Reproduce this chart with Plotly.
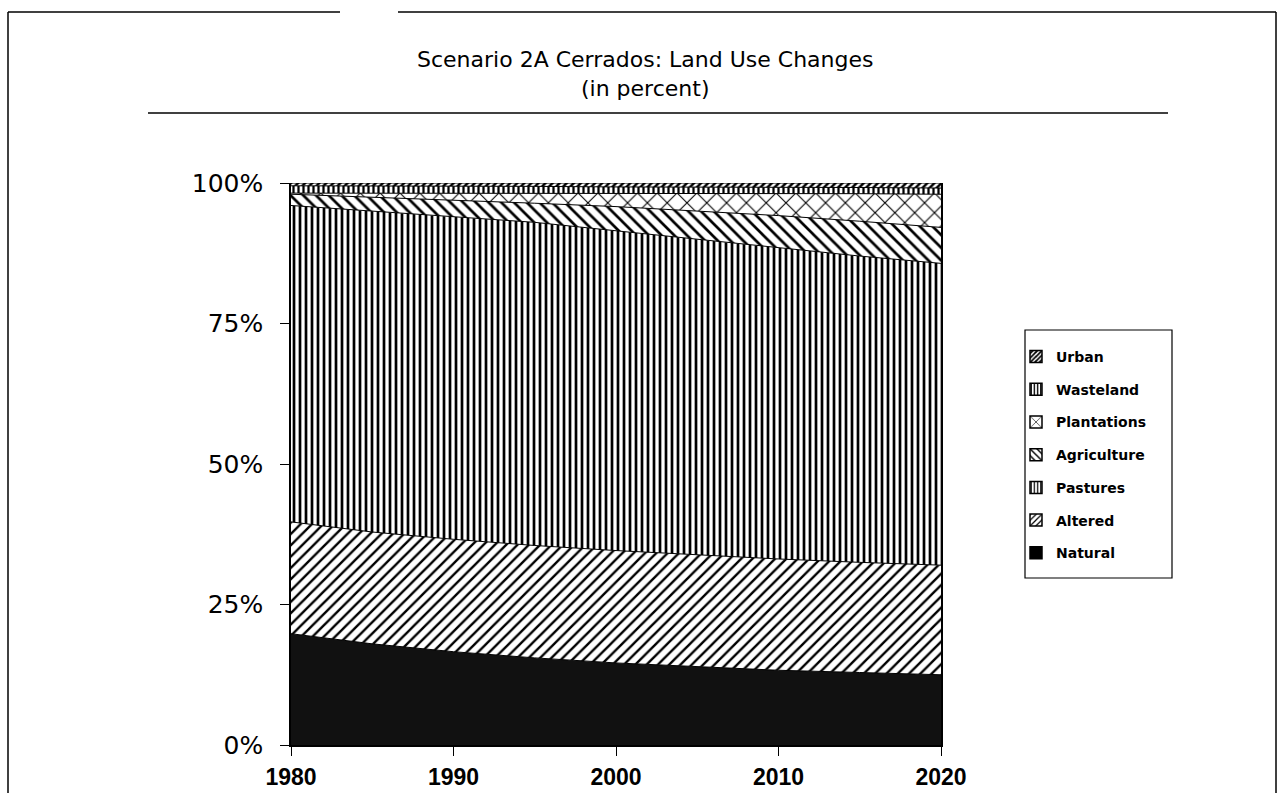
import plotly.graph_objects as go

# Scenario 2A Cerrados – land use shares (percent of total area)
years = [1980, 1985, 1990, 1995, 2000, 2005, 2010, 2015, 2020]
natural = [19.8, 18.0, 16.6, 15.5, 14.6, 13.9, 13.3, 12.9, 12.5]
altered = [19.9, 19.9, 20.0, 20.0, 20.0, 19.9, 19.8, 19.6, 19.5]
pastures = [56.3, 57.1, 57.4, 57.5, 56.9, 56.2, 55.4, 54.5, 53.7]
agriculture = [2.0, 2.5, 3.0, 3.4, 4.3, 5.0, 5.7, 6.2, 6.4]
plantations = [0.2, 0.7, 1.1, 1.7, 2.3, 3.1, 3.9, 4.9, 5.9]
wasteland = [1.3, 1.3, 1.3, 1.3, 1.2, 1.2, 1.1, 1.1, 1.1]
urban = [0.5, 0.5, 0.6, 0.6, 0.7, 0.7, 0.8, 0.8, 0.9]

year_ticks = [1980, 1990, 2000, 2010, 2020]
pct_ticks = [0, 25, 50, 75, 100]
pct_labels = ["0%", "25%", "50%", "75%", "100%"]

# plot area in pixels (1284 x 793 page)
W, H = 1284, 793
L, R, T, B = 291, 941, 183, 745


def px(x):
    return (x - L) / (R - L)


def py(y):
    return (B - y) / (B - T)


def pat(shape, size, solidity):
    return dict(shape=shape, size=size, solidity=solidity,
                fgcolor="black", bgcolor="white", fillmode="replace")


# (name, values, area style, legend-swatch pattern)
layers = [
    ("Natural", natural, dict(fillcolor="#111111"), None),
    ("Altered", altered, dict(fillpattern=pat("/", 8, 0.3)), pat("/", 5, 0.3)),
    ("Pastures", pastures, dict(fillpattern=pat("|", 6, 0.45)), pat("|", 4, 0.4)),
    ("Agriculture", agriculture, dict(fillpattern=pat("\\", 9, 0.3)), pat("\\", 6, 0.3)),
    ("Plantations", plantations, dict(fillpattern=pat("x", 14, 0.15)), pat("x", 12, 0.15)),
    ("Wasteland", wasteland, dict(fillpattern=pat("|", 5, 0.45)), pat("|", 4, 0.45)),
    ("Urban", urban, dict(fillpattern=pat("/", 5, 0.5)), pat("/", 4, 0.55)),
]

fig = go.Figure()
for name, vals, style, _ in layers:
    fig.add_trace(go.Scatter(
        x=years, y=vals, name=name, mode="lines", stackgroup="land",
        line=dict(color="black", width=1), showlegend=False,
        hoverinfo="x+y+name", **style,
    ))

# square legend swatches, listed top layer first
for rank, (name, _, _, swatch) in enumerate(reversed(layers)):
    marker = dict(color="black" if swatch is None else "white",
                  line=dict(color="black", width=1.5))
    if swatch is not None:
        marker["pattern"] = swatch
    fig.add_trace(go.Bar(
        x=[None], y=[None], name=name, marker=marker,
        legendgroup=name, legendrank=rank + 1, showlegend=True,
    ))

font = "Liberation Sans, Arial, sans-serif"
wide = "DejaVu Sans, Verdana, sans-serif"

fig.update_layout(
    width=W, height=H,
    margin=dict(l=L, r=W - R, t=T, b=H - B, autoexpand=False),
    paper_bgcolor="white", plot_bgcolor="white",
    font=dict(family=font, color="black"),
    showlegend=True,
    legend=dict(
        x=px(1016), y=py(341), xanchor="left", yanchor="top",
        traceorder="grouped", tracegroupgap=11.5, itemwidth=30,
        borderwidth=0, bgcolor="rgba(0,0,0,0)",
        font=dict(family=wide, size=14, weight="bold"),
    ),
    xaxis=dict(
        type="linear", range=[1980, 2020], tickvals=year_ticks,
        ticks="outside", ticklen=9, tickcolor="black", ticklabelstandoff=2,
        showline=True, linecolor="black", linewidth=1.5, automargin=False,
        showgrid=False, zeroline=False,
        tickfont=dict(family=font, size=23, weight="bold"),
    ),
    yaxis=dict(
        range=[0, 100], tickvals=pct_ticks, ticktext=pct_labels,
        ticks="outside", ticklen=9, tickcolor="black", ticklabelstandoff=12,
        showline=True, mirror=True, linecolor="black", linewidth=1.5,
        automargin=False, showgrid=False, zeroline=False,
        tickfont=dict(family=wide, size=25),
    ),
)

# two-line title
fig.add_annotation(text="Scenario 2A Cerrados: Land Use Changes<br>(in percent)",
                   xref="paper", yref="paper", x=px(645), y=py(74),
                   xanchor="center", yanchor="middle", showarrow=False,
                   font=dict(family=wide, size=22))

# legend frame
fig.add_shape(type="rect", xref="paper", yref="paper",
              x0=px(1025), x1=px(1172), y0=py(578), y1=py(330),
              line=dict(color="black", width=1.2), fillcolor="rgba(0,0,0,0)")

# rule under the title and the outer frame
frame = [
    (148, 113, 1168, 113),
    (8, 12, 340, 12),
    (398, 12, 1276, 12),
    (8, 12, 8, 800),
    (1276, 12, 1276, 800),
]
for x0, y0, x1, y1 in frame:
    fig.add_shape(type="line", xref="paper", yref="paper",
                  x0=px(x0), y0=py(y0), x1=px(x1), y1=py(y1),
                  line=dict(color="black", width=1.5))

fig.write_html("out.html")
